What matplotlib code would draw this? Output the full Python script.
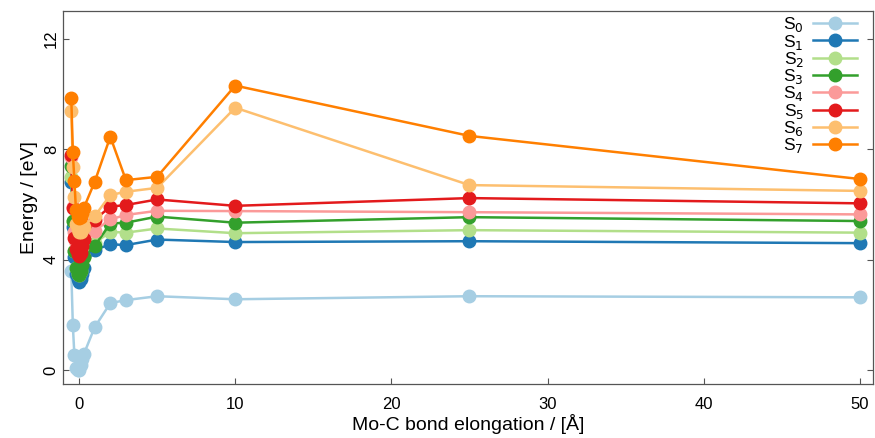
import matplotlib.pyplot as plt

plt.rcParams['font.family'] = ['Liberation Sans', 'DejaVu Sans']

# bond elongation values (Å)
elongation = [-0.5, -0.4, -0.3, -0.2, -0.1, 0.0, 0.1, 0.2, 0.3, 1, 2, 3, 5, 10, 25, 50]

# state energies (eV)
S0 = [3.6, 1.63, 0.54, 0.1, 0.0, 0.02, 0.2, 0.4, 0.58, 1.56, 2.43, 2.54, 2.68, 2.57, 2.68, 2.64]
S1 = [6.8, 5.2, 4.1, 3.5, 3.3, 3.2, 3.3, 3.5, 3.7, 4.35, 4.56, 4.53, 4.73, 4.64, 4.67, 4.6]
S2 = [7.0, 5.4, 4.3, 3.7, 3.5, 3.45, 3.6, 3.9, 4.1, 4.6, 5.01, 4.98, 5.13, 4.96, 5.07, 4.98]
S3 = [7.4, 5.4, 4.3, 3.7, 3.5, 3.45, 3.6, 3.8, 4.1, 4.5, 5.31, 5.34, 5.56, 5.34, 5.54, 5.4]
S4 = [7.7, 5.9, 5.0, 4.6, 4.4, 4.3, 4.4, 4.6, 4.8, 5.05, 5.46, 5.62, 5.77, 5.76, 5.72, 5.64]
S5 = [7.8, 5.86, 4.8, 4.4, 4.2, 4.15, 4.25, 4.5, 4.75, 5.45, 5.92, 5.98, 6.18, 5.95, 6.23, 6.04]
S6 = [9.38, 7.37, 6.28, 5.3, 5.1, 5.0, 5.0, 5.1, 5.2, 5.58, 6.34, 6.46, 6.6, 9.5, 6.7, 6.49]
S7 = [9.85, 7.9, 6.85, 5.8, 5.6, 5.5, 5.55, 5.7, 5.87, 6.82, 8.45, 6.88, 7.0, 10.3, 8.48, 6.92]

states = [S0, S1, S2, S3, S4, S5, S6, S7]
labels = [f"S$_{i}$" for i in range(8)]
colors = ['#a6cee3', '#1f78b4', '#b2df8a', '#33a02c',
          '#fb9a99', '#e31a1c', '#fdbf6f', '#ff7f00']

fig = plt.figure(figsize=(8.75, 4.38), dpi=100)
ax = fig.add_axes([0.072, 0.123, 0.926, 0.852])

for vals, lab, col in zip(states, labels, colors):
    ax.plot(elongation, vals, marker='o', color=col, lw=1.8, markersize=9, label=lab)

ax.set_xlim(-1.03, 50.86)
ax.set_ylim(-0.5, 13.0)
ax.set_xticks([0, 10, 20, 30, 40, 50])
ax.set_yticks([0, 4, 8, 12])
ax.tick_params(direction='in', length=4, width=0.8, color='#555555',
               labelsize=12, right=True)
ax.tick_params(axis='x', pad=9)
ax.tick_params(axis='y', pad=3)
for lbl in ax.get_yticklabels():
    lbl.set_rotation(90)
    lbl.set_va('center')
for sp in ax.spines.values():
    sp.set_color('#555555')
    sp.set_linewidth(0.9)

ax.set_xlabel('Mo-C bond elongation / [Å]', fontsize=14, labelpad=2)
ax.set_ylabel('Energy / [eV]', fontsize=14)

ax.legend(loc='upper right', frameon=False, markerfirst=False, fontsize=12.5,
          handlelength=2.5, labelspacing=-0.1, borderaxespad=0.05,
          borderpad=0.2, handletextpad=0.55, bbox_to_anchor=(0.985, 1.0))

plt.savefig('out.png', dpi=100)
plt.close()
